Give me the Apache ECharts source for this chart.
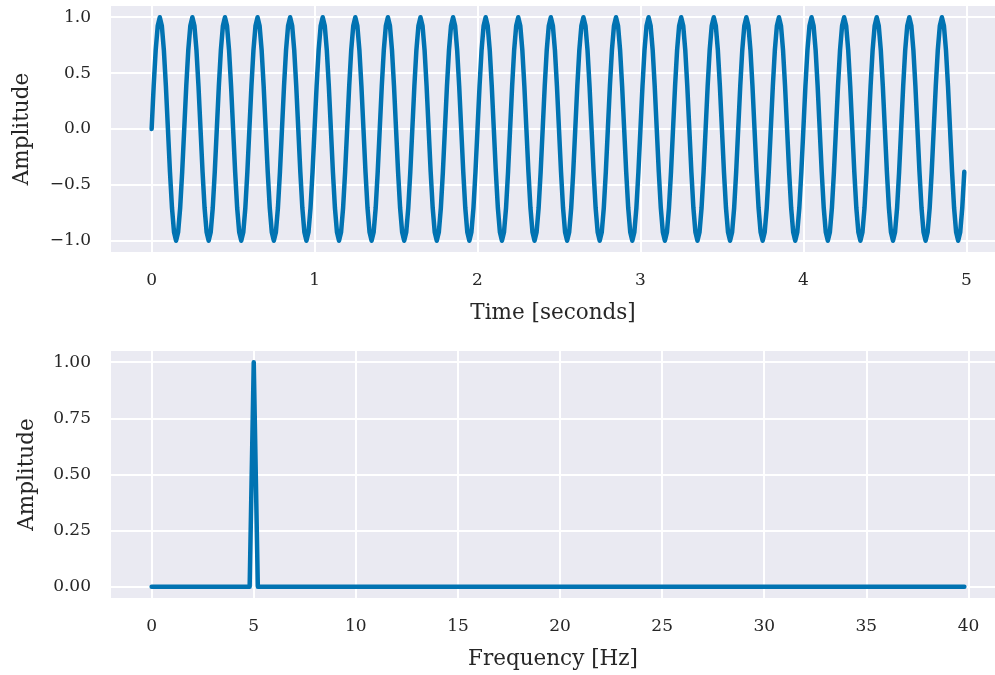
<!DOCTYPE html>
<html>
<head>
<meta charset="utf-8">
<script src="https://cdn.jsdelivr.net/npm/echarts@6/dist/echarts.min.js"></script>
<style>
  html, body { margin: 0; padding: 0; background: #ffffff; }
  #chart { width: 995px; height: 675px; }
</style>
</head>
<body>
<div id="chart"></div>
<script>
// 5 Hz sine sampled at 80 Hz for 5 seconds (400 samples)
const sampleStep = 0.0125; // seconds between samples
const signal = [
  0,0.383,0.707,0.924,1,0.924,0.707,0.383,0,-0.383,-0.707,-0.924,-1,-0.924,-0.707,-0.383,
  0,0.383,0.707,0.924,1,0.924,0.707,0.383,0,-0.383,-0.707,-0.924,-1,-0.924,-0.707,-0.383,
  0,0.383,0.707,0.924,1,0.924,0.707,0.383,0,-0.383,-0.707,-0.924,-1,-0.924,-0.707,-0.383,
  0,0.383,0.707,0.924,1,0.924,0.707,0.383,0,-0.383,-0.707,-0.924,-1,-0.924,-0.707,-0.383,
  0,0.383,0.707,0.924,1,0.924,0.707,0.383,0,-0.383,-0.707,-0.924,-1,-0.924,-0.707,-0.383,
  0,0.383,0.707,0.924,1,0.924,0.707,0.383,0,-0.383,-0.707,-0.924,-1,-0.924,-0.707,-0.383,
  0,0.383,0.707,0.924,1,0.924,0.707,0.383,0,-0.383,-0.707,-0.924,-1,-0.924,-0.707,-0.383,
  0,0.383,0.707,0.924,1,0.924,0.707,0.383,0,-0.383,-0.707,-0.924,-1,-0.924,-0.707,-0.383,
  0,0.383,0.707,0.924,1,0.924,0.707,0.383,0,-0.383,-0.707,-0.924,-1,-0.924,-0.707,-0.383,
  0,0.383,0.707,0.924,1,0.924,0.707,0.383,0,-0.383,-0.707,-0.924,-1,-0.924,-0.707,-0.383,
  0,0.383,0.707,0.924,1,0.924,0.707,0.383,0,-0.383,-0.707,-0.924,-1,-0.924,-0.707,-0.383,
  0,0.383,0.707,0.924,1,0.924,0.707,0.383,0,-0.383,-0.707,-0.924,-1,-0.924,-0.707,-0.383,
  0,0.383,0.707,0.924,1,0.924,0.707,0.383,0,-0.383,-0.707,-0.924,-1,-0.924,-0.707,-0.383,
  0,0.383,0.707,0.924,1,0.924,0.707,0.383,0,-0.383,-0.707,-0.924,-1,-0.924,-0.707,-0.383,
  0,0.383,0.707,0.924,1,0.924,0.707,0.383,0,-0.383,-0.707,-0.924,-1,-0.924,-0.707,-0.383,
  0,0.383,0.707,0.924,1,0.924,0.707,0.383,0,-0.383,-0.707,-0.924,-1,-0.924,-0.707,-0.383,
  0,0.383,0.707,0.924,1,0.924,0.707,0.383,0,-0.383,-0.707,-0.924,-1,-0.924,-0.707,-0.383,
  0,0.383,0.707,0.924,1,0.924,0.707,0.383,0,-0.383,-0.707,-0.924,-1,-0.924,-0.707,-0.383,
  0,0.383,0.707,0.924,1,0.924,0.707,0.383,0,-0.383,-0.707,-0.924,-1,-0.924,-0.707,-0.383,
  0,0.383,0.707,0.924,1,0.924,0.707,0.383,0,-0.383,-0.707,-0.924,-1,-0.924,-0.707,-0.383,
  0,0.383,0.707,0.924,1,0.924,0.707,0.383,0,-0.383,-0.707,-0.924,-1,-0.924,-0.707,-0.383,
  0,0.383,0.707,0.924,1,0.924,0.707,0.383,0,-0.383,-0.707,-0.924,-1,-0.924,-0.707,-0.383,
  0,0.383,0.707,0.924,1,0.924,0.707,0.383,0,-0.383,-0.707,-0.924,-1,-0.924,-0.707,-0.383,
  0,0.383,0.707,0.924,1,0.924,0.707,0.383,0,-0.383,-0.707,-0.924,-1,-0.924,-0.707,-0.383,
  0,0.383,0.707,0.924,1,0.924,0.707,0.383,0,-0.383,-0.707,-0.924,-1,-0.924,-0.707,-0.383
];

// One-sided amplitude spectrum, 0.2 Hz bins from 0 to 39.8 Hz (200 bins)
const binWidth = 0.2; // Hz
const spectrum = [
  0,0,0,0,0,0,0,0,0,0,0,0,0,0,0,0,0,0,0,0,
  0,0,0,0,0,1,0,0,0,0,0,0,0,0,0,0,0,0,0,0,
  0,0,0,0,0,0,0,0,0,0,0,0,0,0,0,0,0,0,0,0,
  0,0,0,0,0,0,0,0,0,0,0,0,0,0,0,0,0,0,0,0,
  0,0,0,0,0,0,0,0,0,0,0,0,0,0,0,0,0,0,0,0,
  0,0,0,0,0,0,0,0,0,0,0,0,0,0,0,0,0,0,0,0,
  0,0,0,0,0,0,0,0,0,0,0,0,0,0,0,0,0,0,0,0,
  0,0,0,0,0,0,0,0,0,0,0,0,0,0,0,0,0,0,0,0,
  0,0,0,0,0,0,0,0,0,0,0,0,0,0,0,0,0,0,0,0,
  0,0,0,0,0,0,0,0,0,0,0,0,0,0,0,0,0,0,0,0
];

const timeTicks = [0, 1, 2, 3, 4, 5];
const signalTicks = [-1.0, -0.5, 0.0, 0.5, 1.0];
const freqTicks = [0, 5, 10, 15, 20, 25, 30, 35, 40];
const spectrumTicks = [0.0, 0.25, 0.5, 0.75, 1.0];

const timeData = signal.map((v, i) => [i * sampleStep, v]);
const specData = spectrum.map((v, i) => [i * binWidth, v]);

const FONT = 'DejaVu Serif';
const TEXT = '#262626';
const BLUE = '#0173b2';
const BG = '#eaeaf2';

function fmt(digits) {
  return v => (v < 0 ? '\u2212' : '') + Math.abs(v).toFixed(digits);
}

function xAxisCfg(gridIndex, min, max, ticks, name) {
  return {
    type: 'value', gridIndex, min, max,
    name, nameLocation: 'middle', nameGap: 50,
    nameTextStyle: { fontFamily: FONT, fontSize: 21.5, color: TEXT },
    axisLine: { show: false },
    axisTick: { show: false, customValues: ticks },
    axisLabel: { customValues: ticks, fontFamily: FONT, fontSize: 17, color: TEXT, margin: 20,
                 formatter: v => String(v) },
    splitLine: { show: true, lineStyle: { color: '#ffffff', width: 2 } }
  };
}

function yAxisCfg(gridIndex, min, max, ticks, digits, nameGap) {
  return {
    type: 'value', gridIndex, min, max,
    name: 'Amplitude', nameLocation: 'middle', nameGap,
    nameTextStyle: { fontFamily: FONT, fontSize: 21.5, color: TEXT },
    axisLine: { show: false },
    axisTick: { show: false, customValues: ticks },
    axisLabel: { customValues: ticks, fontFamily: FONT, fontSize: 17, color: TEXT, margin: 20,
                 formatter: fmt(digits) },
    splitLine: { show: true, lineStyle: { color: '#ffffff', width: 2 } }
  };
}

const chart = echarts.init(document.getElementById('chart'), null, { renderer: 'canvas' });
chart.setOption({
  animation: false,
  backgroundColor: '#ffffff',
  grid: [
    { left: 111, top: 6, right: 0, height: 246, show: true, backgroundColor: BG, borderWidth: 0 },
    { left: 111, top: 351, right: 0, height: 247, show: true, backgroundColor: BG, borderWidth: 0 }
  ],
  xAxis: [
    xAxisCfg(0, -0.2494, 5.176, timeTicks, 'Time [seconds]'),
    xAxisCfg(1, -1.99, 41.30, freqTicks, 'Frequency [Hz]')
  ],
  yAxis: [
    yAxisCfg(0, -1.1, 1.1, signalTicks, 1, 78),
    yAxisCfg(1, -0.05, 1.05, spectrumTicks, 2, 73)
  ],
  series: [
    { type: 'line', xAxisIndex: 0, yAxisIndex: 0, data: timeData, showSymbol: false,
      lineStyle: { color: BLUE, width: 4.5, cap: 'round', join: 'round' } },
    { type: 'line', xAxisIndex: 1, yAxisIndex: 1, data: specData, showSymbol: false,
      lineStyle: { color: BLUE, width: 4.5, cap: 'round', join: 'round' } }
  ]
});
</script>
</body>
</html>
